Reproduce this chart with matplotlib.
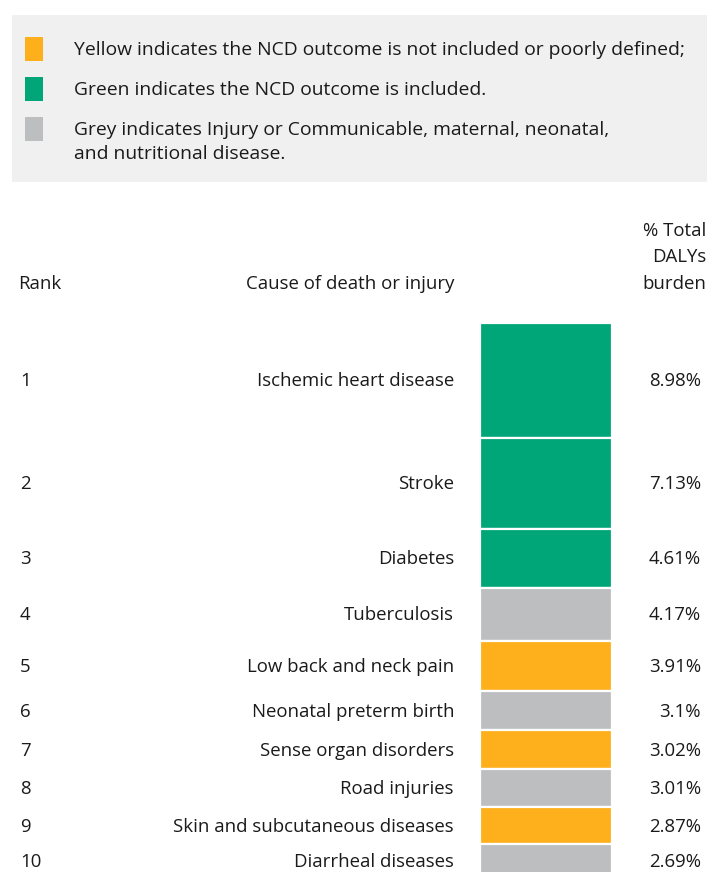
import matplotlib
matplotlib.use("Agg")
import matplotlib.pyplot as plt
import numpy as np
from matplotlib.transforms import blended_transform_factory, offset_copy
from matplotlib.patches import Rectangle

plt.rcParams['font.family'] = ['Open Sans', 'DejaVu Sans']

ranks = [1, 2, 3, 4, 5, 6, 7, 8, 9, 10]
causes = ["Ischemic heart disease", "Stroke", "Diabetes", "Tuberculosis",
          "Low back and neck pain", "Neonatal preterm birth", "Sense organ disorders",
          "Road injuries", "Skin and subcutaneous diseases", "Diarrheal diseases"]
values = [8.98, 7.13, 4.61, 4.17, 3.91, 3.1, 3.02, 3.01, 2.87, 2.69]
value_labels = ["8.98%", "7.13%", "4.61%", "4.17%", "3.91%", "3.1%", "3.02%", "3.01%", "2.87%", "2.69%"]
categories = ["green", "green", "green", "grey", "yellow", "grey", "yellow", "grey", "yellow", "grey"]
legend_texts = ["Yellow indicates the NCD outcome is not included or poorly defined;",
                "Green indicates the NCD outcome is included.",
                "Grey indicates Injury or Communicable, maternal, neonatal,\nand nutritional disease."]

colors = {"yellow": "#FDB01B", "green": "#00A677", "grey": "#BDBEC0"}
TXT = "#1a1a1a"
FS = 13.4
FS_LEG = 13.9

W, H = 707, 872
fig = plt.figure(figsize=(W / 100, H / 100), dpi=100)
bg = fig.add_axes([0, 0, 1, 1])
bg.set_xlim(0, W)
bg.set_ylim(H, 0)
bg.axis('off')

# legend box
bg.add_patch(Rectangle((12, 15), W - 12, 167, facecolor="#F0F0F0", edgecolor="none"))
leg_y = [49, 89, 129]
for key, y, t in zip(["yellow", "green", "grey"], leg_y, legend_texts):
    bg.add_patch(Rectangle((25, y - 12), 18, 24, facecolor=colors[key], edgecolor="none"))
    bg.text(74, y - 8, t, fontsize=FS_LEG, color=TXT, va='top', ha='left', linespacing=1.42)

# header
bg.text(18, 284, "Rank", fontsize=FS, color=TXT, va='center', ha='left')
bg.text(455, 284, "Cause of death or injury", fontsize=FS, color=TXT, va='center', ha='right')
bg.text(706, 284, "burden", fontsize=FS, color=TXT, va='center', ha='right')
bg.text(706, 257, "DALYs", fontsize=FS, color=TXT, va='center', ha='right')
bg.text(706, 231, "% Total", fontsize=FS, color=TXT, va='center', ha='right')

# bars
top_px = 323
scale = 12.77
bar_ax = fig.add_axes([480 / W, 0, (612 - 480) / W, (H - top_px) / H])
bar_ax.set_ylim((H - top_px) / scale, 0)
bar_ax.set_xlim(0, 1)
bar_ax.axis('off')
bottoms = np.concatenate([[0], np.cumsum(values)[:-1]])
bar_ax.bar([0.5] * len(values), values, bottom=bottoms, width=1.0,
           color=[colors[c] for c in categories], edgecolor='white', linewidth=1.6, align='center')

tr = blended_transform_factory(bg.transData, bar_ax.transData)
tr = offset_copy(tr, fig=fig, y=-1, units='dots')
for r, c, v, vl, b in zip(ranks, causes, values, value_labels, bottoms):
    yc = b + v / 2
    bg.text(20, yc, str(r), fontsize=FS, color=TXT, va='center', ha='left', transform=tr)
    bg.text(454, yc, c, fontsize=FS, color=TXT, va='center', ha='right', transform=tr)
    bg.text(701, yc, vl, fontsize=FS, color=TXT, va='center', ha='right', transform=tr)

fig.savefig("out.png", dpi=100)
